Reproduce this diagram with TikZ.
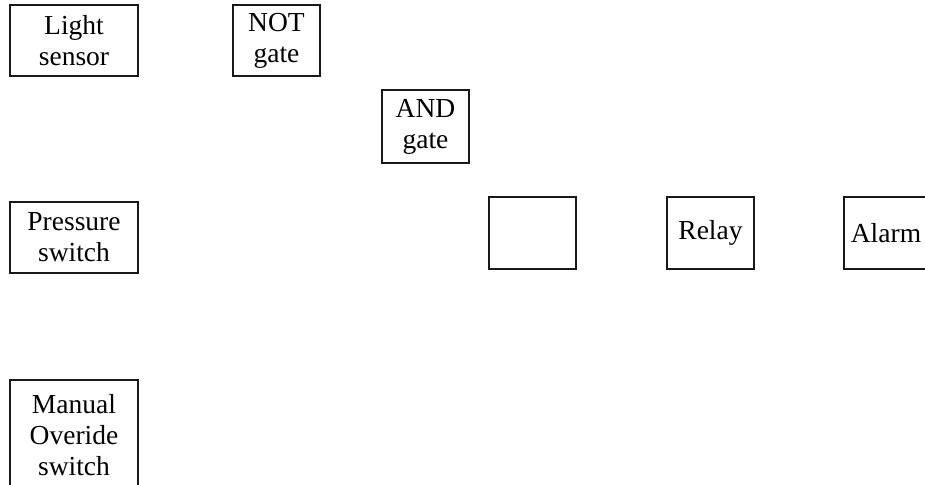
\documentclass[tikz,border=0pt]{standalone}
\usepackage{fontspec}
\setmainfont{Liberation Serif}
\begin{document}
\begin{tikzpicture}[x=1pt,y=-1pt,
  box/.style={draw=black!90, line width=1.3pt, rectangle, inner sep=0pt, align=center,
    font=\fontsize{27.5}{31}\selectfont}]
\useasboundingbox (0,0) rectangle (925,484);
\clip (0,0) rectangle (925,484);
\node[box, minimum width=128pt, minimum height=71pt] (light) at (74,40.5) {Light\\sensor};
\node[box, minimum width=87pt, minimum height=71pt] (notg) at (276.5,40.5) {NOT\\gate};
\node[box, minimum width=87pt, minimum height=73pt] (andg) at (425.5,126.5) {AND\\gate};
\node[box, minimum width=128pt, minimum height=71pt] (press) at (74,237.5) {Pressure\\switch};
\node[box, minimum width=128pt, minimum height=110pt] (manual) at (74,435) {Manual\\Overide\\switch};
\node[box, minimum width=87pt, minimum height=72pt] (empty) at (532.5,233) {};
\node[box, minimum width=87pt, minimum height=72pt] (relay) at (710.5,233) {Relay};
\node[box, minimum width=84pt, minimum height=72pt] (alarm) at (886,233) {Alarm};
\end{tikzpicture}
\end{document}
